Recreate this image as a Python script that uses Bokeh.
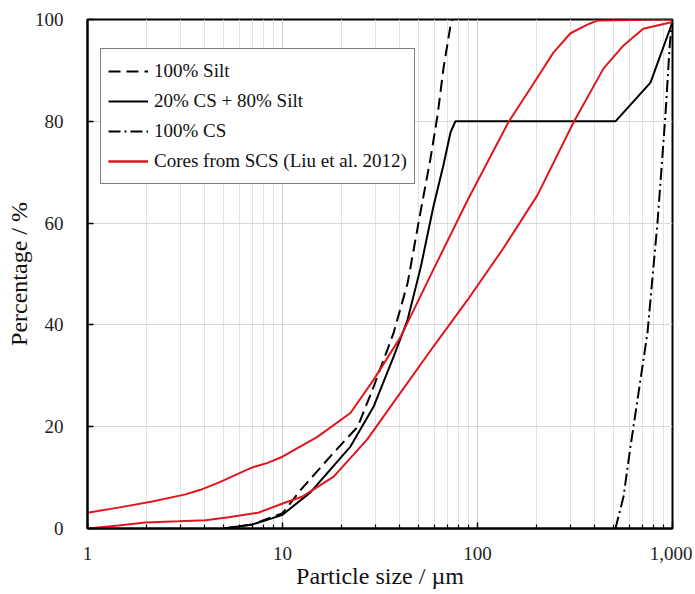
from bokeh.plotting import figure
from bokeh.models import FixedTicker, Legend, LegendItem
from bokeh.embed import file_html
from bokeh.resources import INLINE

# ---- data ----
silt_x = [5.0, 7.0, 8.2, 10.0, 12.4, 18.3, 24.3, 29.3, 37.1, 43.8, 49.8, 57.4, 62.4, 66.9, 72.7, 74.5]
silt_y = [0.0, 0.8, 1.8, 3.0, 7.6, 14.9, 20.0, 27.8, 38.4, 48.2, 60.0, 72.7, 81.2, 90.4, 98.8, 100.0]

mix_x = [5.0, 7.0, 8.2, 10.0, 13.9, 22.3, 29.3, 37.1, 43.8, 51.2, 59.3, 66.9, 72.7, 77.0, 510.0, 771.0, 1000.0]
mix_y = [0.0, 0.8, 1.6, 2.7, 7.1, 16.1, 23.9, 33.7, 41.0, 51.4, 63.1, 71.4, 77.8, 80.0, 80.0, 87.6, 99.5]

cs_x = [510.0, 561.0, 609.0, 744.0, 838.0, 920.0, 970.0, 1000.0]
cs_y = [0.0, 6.3, 16.1, 38.4, 60.2, 81.2, 95.5, 100.0]

coreA_x = [1.0, 1.44, 2.15, 3.18, 3.8, 4.7, 7.0, 8.4, 10.0, 15.1, 22.3, 29.3, 40.3, 59.3, 88.9, 144.0, 187.0, 245.0, 300.0, 366.0, 412.0, 1000.0]
coreA_y = [3.1, 4.1, 5.3, 6.7, 7.6, 9.0, 12.0, 12.9, 14.1, 18.0, 22.7, 29.2, 37.6, 50.8, 64.5, 79.8, 86.5, 93.5, 97.3, 99.0, 99.8, 100.0]

coreB_x = [1.0, 1.44, 1.98, 2.93, 4.03, 5.3, 7.5, 10.35, 12.7, 18.3, 27.2, 40.3, 59.3, 88.9, 136.0, 203.0, 311.0, 443.0, 561.0, 708.0, 1000.0]
coreB_y = [0.0, 0.6, 1.2, 1.4, 1.6, 2.2, 3.1, 5.1, 6.3, 10.2, 17.5, 26.7, 35.7, 44.9, 55.1, 65.5, 79.8, 90.4, 94.9, 98.2, 99.5]

major_ticks = [1, 10, 100, 1000]
tick_labels = {1: "1", 10: "10", 100: "100", 1000: "1,000"}
y_ticks = [0, 20, 40, 60, 80, 100]

labels = ["100% Silt", "20% CS + 80% Silt", "100% CS", "Cores from SCS (Liu et al. 2012)"]

FONT = "Liberation Serif"
RED = "#e0161e"

p = figure(
    x_axis_type="log",
    x_range=(1, 1000), y_range=(0, 100),
    frame_width=585, frame_height=509,
    min_border_left=87, min_border_right=20,
    min_border_top=19, min_border_bottom=60,
    output_backend="svg", toolbar_location=None,
    background_fill_color="white", border_fill_color="white",
)

minor = [m * d for d in (1, 10, 100) for m in range(2, 10)]
p.xaxis.ticker = FixedTicker(ticks=major_ticks, minor_ticks=minor)
p.xaxis.major_label_overrides = tick_labels
p.yaxis.ticker = FixedTicker(ticks=y_ticks)

for ax in (p.xaxis[0], p.yaxis[0]):
    ax.axis_line_width = 2
    ax.axis_line_color = "black"
    ax.major_tick_in = 6
    ax.major_tick_out = 0
    ax.major_tick_line_width = 1.5
    ax.major_label_text_font = FONT
    ax.major_label_text_font_size = "19px"
    ax.major_label_text_color = "#222222"
    ax.axis_label_text_font = FONT
    ax.axis_label_text_font_size = "24px"
    ax.axis_label_text_font_style = "normal"
    ax.axis_label_text_color = "#111111"

p.xaxis.minor_tick_in = 4
p.xaxis.minor_tick_out = 0
p.xaxis.minor_tick_line_width = 1.2
p.yaxis.minor_tick_line_color = None
p.xaxis.major_label_standoff = 18
p.yaxis.major_label_standoff = 24
p.xaxis.axis_label = "Particle size / µm"
p.yaxis.axis_label = "Percentage / %"
p.xaxis.axis_label_standoff = 0
p.yaxis.axis_label_standoff = 0

p.xgrid.grid_line_color = "#cfcfcf"
p.xgrid.minor_grid_line_color = "#e2e2e2"
p.ygrid.grid_line_color = "#d8d8d8"
p.outline_line_color = "black"
p.outline_line_width = 2

r1 = p.line(silt_x, silt_y, line_color="black", line_width=2, line_dash="12 6")
r2 = p.line(mix_x, mix_y, line_color="black", line_width=2)
r3 = p.line(cs_x, cs_y, line_color="black", line_width=2, line_dash="12 4 2 4")
r4 = p.line(coreA_x, coreA_y, line_color=RED, line_width=2)
r5 = p.line(coreB_x, coreB_y, line_color=RED, line_width=2)

legend = Legend(
    items=[
        LegendItem(label=labels[0], renderers=[r1]),
        LegendItem(label=labels[1], renderers=[r2]),
        LegendItem(label=labels[2], renderers=[r3]),
        LegendItem(label=labels[3], renderers=[r4, r5]),
    ],
    location=(13, 344),
    label_text_font=FONT, label_text_font_size="19px", label_text_color="#111111",
    glyph_width=40, glyph_height=30, label_height=30, label_standoff=6,
    spacing=0, padding=7, margin=0,
    border_line_color="black", border_line_width=1.5,
    background_fill_color="white", background_fill_alpha=1.0,
)
p.add_layout(legend, "center")

open("out.html", "w").write(file_html(p, INLINE))
